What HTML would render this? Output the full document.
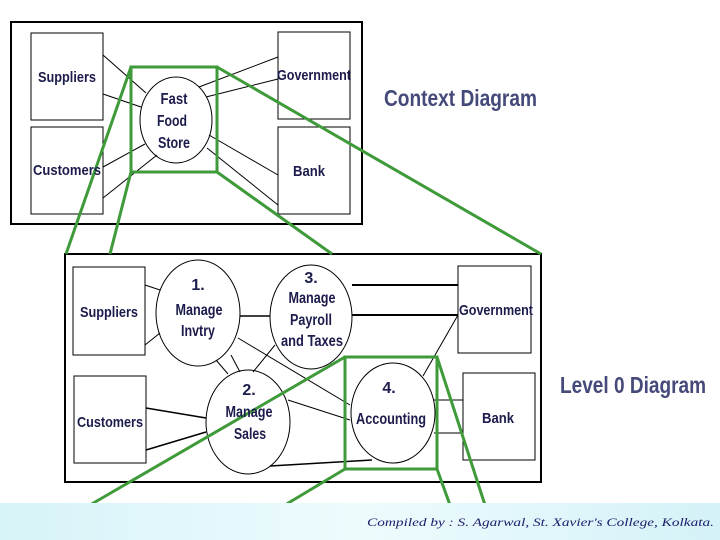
<!DOCTYPE html>
<html><head><meta charset="utf-8"><style>
html,body{margin:0;padding:0;width:720px;height:540px;overflow:hidden;background:#fff}
svg{display:block}
.t{font-family:"Liberation Sans",Arial,sans-serif;font-weight:bold;fill:#1c1c4c;font-size:15px}
.c{font-size:16px}
.h{font-family:"Liberation Sans",Arial,sans-serif;font-weight:bold;fill:#464a7a;font-size:23px}
</style></head><body>
<svg width="720" height="540" viewBox="0 0 720 540">
<defs>
<linearGradient id="fg" x1="0" y1="0" x2="1" y2="0">
<stop offset="0" stop-color="#d6f3f8"/><stop offset="0.5" stop-color="#eefbfd"/><stop offset="1" stop-color="#d4f2f8"/>
</linearGradient>
</defs>
<g fill="none" stroke="#000">
<rect x="11" y="22" width="351" height="202" stroke-width="2"/>
<rect x="31" y="33" width="72" height="87"/>
<rect x="31" y="127" width="72" height="87"/>
<rect x="278" y="32" width="72" height="87"/>
<rect x="278" y="127" width="72" height="87"/>
<ellipse cx="176" cy="120" rx="36" ry="43"/>
<line x1="103" y1="55" x2="146" y2="93"/>
<line x1="103" y1="94" x2="141" y2="107"/>
<line x1="103" y1="167" x2="145" y2="144"/>
<line x1="103" y1="198" x2="157" y2="155"/>
<line x1="278" y1="57" x2="199" y2="87"/>
<line x1="278" y1="79" x2="206" y2="97"/>
<line x1="278" y1="175" x2="209" y2="135"/>
<line x1="278" y1="205" x2="207" y2="148"/>
<rect x="65" y="254" width="476" height="228" stroke-width="2"/>
<rect x="73" y="267" width="72" height="88"/>
<rect x="74" y="376" width="72" height="87"/>
<rect x="458" y="266" width="73" height="87"/>
<rect x="463" y="373" width="72" height="87"/>
<ellipse cx="198" cy="313" rx="42" ry="53"/>
<ellipse cx="311" cy="317" rx="41" ry="52"/>
<ellipse cx="248" cy="422" rx="42" ry="52"/>
<ellipse cx="393" cy="413" rx="42" ry="50"/>
<line x1="145" y1="285" x2="160" y2="290"/>
<line x1="145" y1="345" x2="160" y2="333"/>
<line x1="240" y1="316" x2="270" y2="316" stroke-width="1.5"/>
<line x1="352" y1="285" x2="458" y2="285" stroke-width="2"/>
<line x1="352" y1="315" x2="458" y2="315" stroke-width="2"/>
<line x1="458" y1="315" x2="423" y2="376"/>
<line x1="146" y1="408" x2="206" y2="418" stroke-width="1.5"/>
<line x1="146" y1="450" x2="206" y2="432" stroke-width="1.5"/>
<line x1="216" y1="360" x2="228" y2="374"/>
<line x1="231" y1="355" x2="240" y2="372"/>
<line x1="275" y1="345" x2="253" y2="372"/>
<line x1="238" y1="338" x2="350" y2="405"/>
<line x1="288" y1="400" x2="350" y2="420"/>
<line x1="270" y1="466" x2="372" y2="460" stroke-width="1.5"/>
<line x1="434" y1="400" x2="463" y2="400"/>
<line x1="434" y1="433" x2="463" y2="433"/>
</g>
<g fill="none" stroke="#3f9a3a" stroke-width="3">
<rect x="131" y="67" width="86" height="105"/>
<line x1="131" y1="67" x2="66" y2="254"/>
<line x1="131" y1="172" x2="110" y2="254"/>
<line x1="217" y1="67" x2="541" y2="254"/>
<line x1="217" y1="172" x2="332" y2="254"/>
<rect x="345" y="357" width="92" height="112"/>
<line x1="345" y1="357" x2="90" y2="505"/>
<line x1="345" y1="469" x2="285" y2="505"/>
<line x1="437" y1="357" x2="485" y2="505"/>
<line x1="437" y1="469" x2="450" y2="505"/>
</g>
<g class="t" text-anchor="middle">
<text x="67" y="82" textLength="58" lengthAdjust="spacingAndGlyphs">Suppliers</text>
<text x="67" y="175" textLength="68" lengthAdjust="spacingAndGlyphs">Customers</text>
<text x="314" y="80" textLength="74" lengthAdjust="spacingAndGlyphs">Government</text>
<text x="309" y="176" textLength="32" lengthAdjust="spacingAndGlyphs">Bank</text>
<text class="c" x="174" y="104" textLength="27" lengthAdjust="spacingAndGlyphs">Fast</text>
<text class="c" x="172" y="126" textLength="30" lengthAdjust="spacingAndGlyphs">Food</text>
<text class="c" x="174" y="148" textLength="32" lengthAdjust="spacingAndGlyphs">Store</text>
<text x="109" y="317" textLength="58" lengthAdjust="spacingAndGlyphs">Suppliers</text>
<text x="110" y="427" textLength="66" lengthAdjust="spacingAndGlyphs">Customers</text>
<text x="496" y="315" textLength="74" lengthAdjust="spacingAndGlyphs">Government</text>
<text x="498" y="423" textLength="32" lengthAdjust="spacingAndGlyphs">Bank</text>
<text class="c" x="198" y="290">1.</text>
<text class="c" x="199" y="315" textLength="47" lengthAdjust="spacingAndGlyphs">Manage</text>
<text class="c" x="198" y="336" textLength="34" lengthAdjust="spacingAndGlyphs">Invtry</text>
<text class="c" x="311" y="283">3.</text>
<text class="c" x="312" y="303" textLength="47" lengthAdjust="spacingAndGlyphs">Manage</text>
<text class="c" x="311" y="325" textLength="42" lengthAdjust="spacingAndGlyphs">Payroll</text>
<text class="c" x="312" y="346" textLength="62" lengthAdjust="spacingAndGlyphs">and Taxes</text>
<text class="c" x="249" y="395">2.</text>
<text class="c" x="249" y="417" textLength="47" lengthAdjust="spacingAndGlyphs">Manage</text>
<text class="c" x="250" y="439" textLength="32" lengthAdjust="spacingAndGlyphs">Sales</text>
<text class="c" x="389" y="393">4.</text>
<text class="c" x="391" y="424" textLength="70" lengthAdjust="spacingAndGlyphs">Accounting</text>
</g>
<text class="h" x="384" y="106" textLength="153" lengthAdjust="spacingAndGlyphs">Context Diagram</text>
<text class="h" x="560" y="393" textLength="146" lengthAdjust="spacingAndGlyphs">Level 0 Diagram</text>
<rect x="0" y="503" width="720" height="37" fill="url(#fg)"/>
<text x="367" y="526" font-family="Liberation Serif,serif" font-style="italic" font-size="12" fill="#1a1a6a" textLength="347" lengthAdjust="spacingAndGlyphs">Compiled by : S. Agarwal, St. Xavier's College, Kolkata.</text>
</svg>
</body></html>
